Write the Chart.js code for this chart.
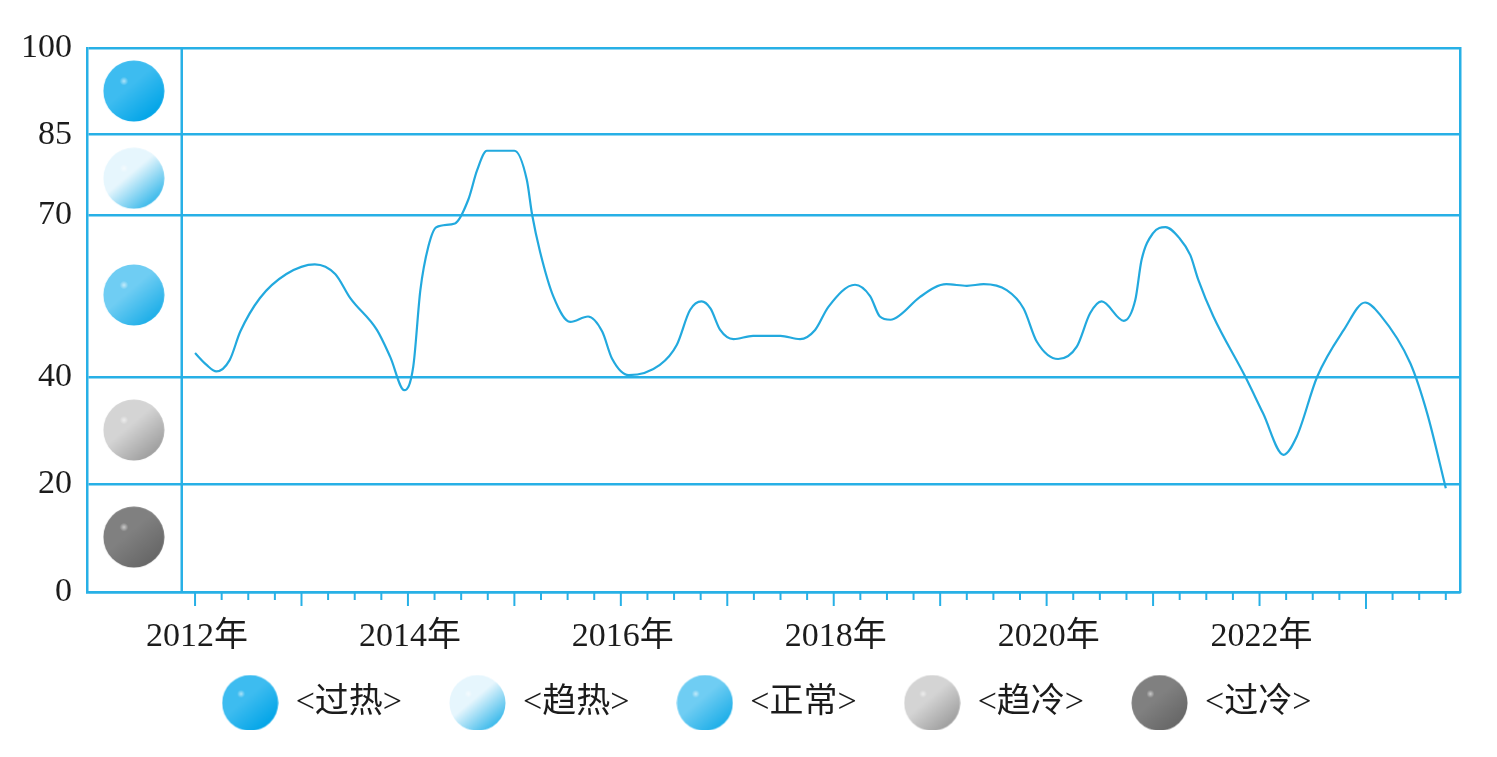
<!DOCTYPE html>
<html>
<head>
<meta charset="utf-8">
<style>
html, body { margin: 0; padding: 0; background: #fff; overflow: hidden; }
#wrap { width: 1497px; height: 749px; }
</style>
<script src="https://cdn.jsdelivr.net/npm/chart.js@4"></script>
</head>
<body>
<div id="wrap"><canvas id="chart"></canvas></div>
<script>
// months since Jan 2012 and the index
const months = [0, 1.3, 2.4, 3.9, 5.1, 7.3, 10.3, 13.5, 15.8, 17.5, 20.5, 22, 23.6, 24.6, 25.4, 26.3, 27.2, 29.3, 30.8, 31.8, 32.9, 36, 37.4, 38, 38.9, 40.4, 42.3, 44.3, 45.9, 47, 48.9, 52.4, 54.3, 55.8, 57.1, 58.1, 59.2, 60.7, 62.9, 66, 68.2, 69.9, 71.4, 74.4, 76.1, 77.2, 78.4, 79.5, 81.7, 84.7, 87, 88.9, 91.5, 93.4, 94.9, 97.3, 99.4, 100.9, 102.2, 104.7, 106, 106.7, 108, 109.4, 111, 112.2, 113.1, 114.8, 118.4, 120.4, 122.7, 124.2, 126.5, 129.5, 131.9, 133.6, 137, 138.9, 141];
const values = [44.4, 42.2, 41, 43.1, 48.4, 54.6, 59.1, 60.9, 59.1, 54.6, 48.7, 43.7, 37.5, 41.9, 56.1, 64.2, 67.8, 68.5, 72.9, 78.4, 82, 82, 76.6, 70.1, 63.2, 54.9, 50.2, 51.2, 48.4, 43.4, 40.3, 42.2, 45.9, 52.4, 54, 52.7, 48.7, 47, 47.6, 47.6, 47, 48.7, 53, 57.1, 55, 51.2, 50.6, 51.5, 54.8, 57.2, 56.9, 57.2, 56.1, 52.7, 46.5, 43.3, 45.6, 51.8, 54, 50.4, 54.3, 61.7, 66.7, 67.8, 65.7, 62.6, 58, 51.2, 40, 33.2, 25.5, 28.9, 40, 48.7, 53.8, 51.5, 42.5, 33.2, 19.3];

const zoneNames = ['<过热>', '<趋热>', '<正常>', '<趋冷>', '<过冷>'];
const zoneValues = [93.1, 76.9, 55.2, 30.1, 10.2];
const zoneColumn = -6.9;
const zoneDivider = -1.5;

const yTicks = [0, 20, 40, 70, 85, 101.1];
const yTickLabels = ['0', '20', '40', '70', '85', '100'];
const xTickMonths = [0, 24, 48, 72, 96, 120];
const xTickLabels = ['2012年', '2014年', '2016年', '2018年', '2020年', '2022年'];

const blue = '#27b0e6';
const lineBlue = '#22a9de';
const inkColor = '#1c1c1c';
const serif = '"Liberation Serif", "Noto Sans CJK SC", serif';
const sphereColors = [
    ['#3dbcf0', '#05a6e8'],
    ['#e6f6fd', '#45bdec'],
    ['#6fcdf3', '#22b0e9'],
    ['#d4d4d4', '#a2a2a2'],
    ['#808080', '#686868']
];

function makeSphere(colors, size) {
    const c = document.createElement('canvas');
    c.width = size;
    c.height = size;
    const g = c.getContext('2d');
    const r = size / 2;
    const fill = g.createLinearGradient(r * 0.5, r * 0.4, r * 1.6, r * 1.7);
    fill.addColorStop(0, colors[0]);
    fill.addColorStop(0.35, colors[0]);
    fill.addColorStop(1, colors[1]);
    g.fillStyle = fill;
    g.beginPath();
    g.arc(r, r, r - 0.5, 0, Math.PI * 2);
    g.fill();
    const hx = r * 0.68, hy = r * 0.68;
    const shine = g.createRadialGradient(hx, hy, 0, hx, hy, r * 0.14);
    shine.addColorStop(0, 'rgba(255,255,255,0.6)');
    shine.addColorStop(1, 'rgba(255,255,255,0)');
    g.fillStyle = shine;
    g.fillRect(0, 0, size, size);
    return c;
}

const bigSpheres = sphereColors.map(c => makeSphere(c, 62));
const legendSpheres = sphereColors.map(c => makeSphere(c, 57));

const tickMonths = [];
for (let m = 0; m <= 141; m += 3) tickMonths.push(m);

// tick marks differ in length, tickLength can't do that per tick
const xTickMarks = {
    id: 'xTickMarks',
    afterDraw(chart) {
        const x = chart.scales.x;
        const ctx = chart.ctx;
        ctx.save();
        ctx.strokeStyle = blue;
        ctx.lineWidth = 2;
        x.ticks.forEach(t => {
            let len = t.value % 12 === 0 ? 14 : 8;
            if (t.value === 132) len = 17;
            const px = x.getPixelForValue(t.value);
            ctx.beginPath();
            ctx.moveTo(px, x.top);
            ctx.lineTo(px, x.top + len);
            ctx.stroke();
        });
        ctx.restore();
    }
};

// the legend padding is needed between items only, so pull the box up and right
const legendShift = {
    id: 'legendShift',
    afterLayout(chart) {
        const l = chart.legend;
        l.top -= 19;
        l.bottom -= 19;
        l.left += 18;
        l.right += 18;
    }
};

const zoneDatasets = zoneNames.map((name, i) => ({
    label: name,
    data: [{ x: zoneColumn, y: zoneValues[i] }],
    showLine: false,
    pointStyle: bigSpheres[i],
    pointRadius: 31,
    pointHoverRadius: 31
}));

new Chart(document.getElementById('chart'), {
    type: 'scatter',
    plugins: [xTickMarks, legendShift],
    data: {
        datasets: [{
            label: 'index',
            data: months.map((m, i) => ({ x: m, y: values[i] })),
            showLine: true,
            borderColor: lineBlue,
            borderWidth: 2.2,
            pointRadius: 0,
            cubicInterpolationMode: 'monotone'
        }, {
            label: 'divider',
            data: [{ x: zoneDivider, y: 0 }, { x: zoneDivider, y: yTicks[yTicks.length - 1] }],
            showLine: true,
            borderColor: blue,
            borderWidth: 2.5,
            pointRadius: 0
        }].concat(zoneDatasets)
    },
    options: {
        responsive: true,
        maintainAspectRatio: false,
        animation: false,
        layout: { padding: { top: 48, left: 0, right: 0, bottom: 0 } },
        scales: {
            x: {
                type: 'linear',
                min: -12.18,
                max: 142.6,
                afterBuildTicks: s => { s.ticks = tickMonths.map(v => ({ value: v })); },
                afterFit: s => { s.height = 66; },
                grid: { display: true, drawOnChartArea: false, drawTicks: false },
                border: { color: blue, width: 2.5 },
                ticks: {
                    autoSkip: false,
                    maxRotation: 0,
                    padding: 25,
                    labelOffset: 2,
                    color: inkColor,
                    font: { family: serif, size: 34 },
                    callback: v => {
                        const i = xTickMonths.indexOf(v);
                        return i < 0 ? '' : xTickLabels[i];
                    }
                }
            },
            y: {
                min: 0,
                max: yTicks[yTicks.length - 1],
                afterBuildTicks: s => { s.ticks = yTicks.map(v => ({ value: v })); },
                afterFit: s => { s.width = 87; },
                grid: { color: blue, lineWidth: 2.5, drawTicks: false },
                border: { color: blue, width: 2.5 },
                ticks: {
                    autoSkip: false,
                    padding: 15,
                    color: inkColor,
                    font: { family: serif, size: 34 },
                    callback: v => yTickLabels[yTicks.indexOf(v)]
                }
            },
            right: {
                position: 'right',
                afterFit: s => { s.width = 37; },
                grid: { display: false },
                border: { color: blue, width: 2.5 },
                ticks: { display: false }
            }
        },
        plugins: {
            tooltip: { enabled: false },
            legend: {
                position: 'bottom',
                labels: {
                    usePointStyle: true,
                    pointStyleWidth: 57,
                    padding: 47,
                    color: inkColor,
                    font: { family: serif, size: 34 },
                    generateLabels: () => zoneNames.map((name, i) => ({
                        text: name,
                        pointStyle: legendSpheres[i],
                        fillStyle: 'transparent',
                        strokeStyle: 'transparent',
                        lineWidth: 0,
                        fontColor: inkColor,
                        hidden: false,
                        datasetIndex: i + 2
                    }))
                }
            }
        }
    }
});
</script>
</body>
</html>
